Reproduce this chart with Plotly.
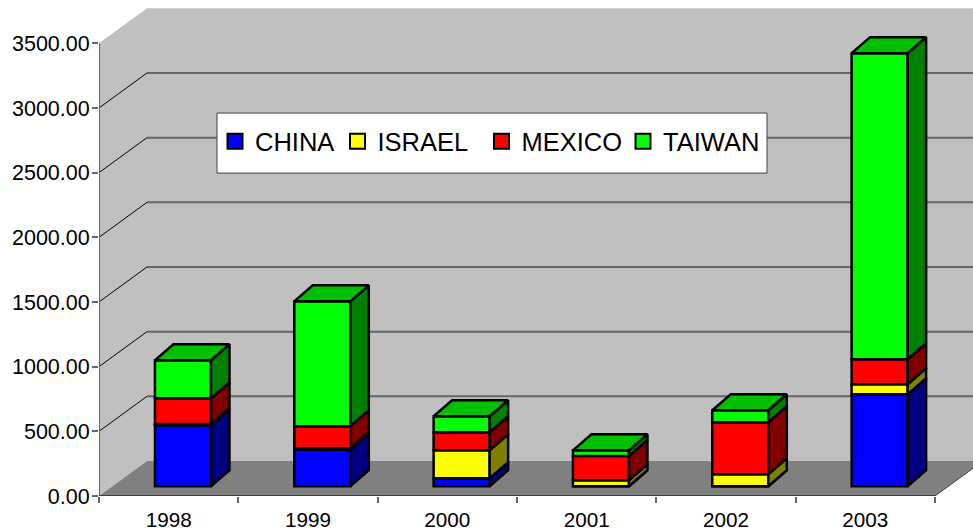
import plotly.graph_objects as go

# Shipment values per year, stacked in legend order
years = ["1998", "1999", "2000", "2001", "2002", "2003"]
china = [472, 285, 62, 0, 0, 711]
israel = [10, 10, 216, 46, 93, 78]
mexico = [198, 170, 140, 188, 402, 193]
taiwan = [294, 965, 123, 44, 93, 2367]
y_ticks = [0, 500, 1000, 1500, 2000, 2500, 3000, 3500]

series = [
    ("CHINA", china, "#0000FF", "#000080"),
    ("ISRAEL", israel, "#FFFF00", "#808000"),
    ("MEXICO", mexico, "#FF0000", "#800000"),
    ("TAIWAN", taiwan, "#00FF00", "#008000"),
]
TOP_COLOR = "#00C000"
EDGE = 2.5

# Axis scales: pixels per category and per unit of value
PX_X = 139.33
PX_Y = 0.12926
PLOT_L = 99
PLOT_W = 874
PLOT_H = 495.7
FONT = "Liberation Sans, Arial, sans-serif"


def dx(px):
    return px / PX_X


def dy(px):
    return px / PX_Y


# Oblique projection of the chart box and of the bars inside it
WALL_X, WALL_Y = dx(48), dy(35)
BAR_OFF_X, BAR_OFF_Y = dx(14.3), dy(9.7)
BAR_W = dx(56)
SIDE_X, SIDE_Y = dx(18.5), dy(16)

x_max = PLOT_W / PX_X
y_max = PLOT_H / PX_Y
n = len(years)


def poly(points, fill, line="black", width=1, layer="below"):
    path = "M" + "L".join(f"{a},{b}" for a, b in points) + "Z"
    return dict(type="path", path=path, xref="x", yref="y", fillcolor=fill,
                line=dict(color=line, width=width), layer=layer)


def seg(x0, y0, x1, y1, color, width):
    return dict(type="line", x0=x0, y0=y0, x1=x1, y1=y1, xref="x", yref="y",
                line=dict(color=color, width=width), layer="below")


top = y_ticks[-1]
shapes = [
    # Left wall and back wall
    poly([(0, 0), (WALL_X, WALL_Y), (n + WALL_X, WALL_Y), (n + WALL_X, top + WALL_Y),
          (WALL_X, top + WALL_Y), (0, top)], "#C0C0C0", "#C0C0C0", 0),
    # Floor
    poly([(0, 0), (n, 0), (n + WALL_X, WALL_Y), (WALL_X, WALL_Y)], "#808080", "#808080", 0),
]
for t in y_ticks[1:-1]:
    shapes.append(seg(0, t, WALL_X, t + WALL_Y, "#000000", 1))
    shapes.append(seg(WALL_X, t + WALL_Y, n + WALL_X, t + WALL_Y, "#666666", 2))
shapes += [
    seg(0, 0, 0, top, "#666666", 2),
    seg(0, 0, n, 0, "#404040", 2),
    seg(n, 0, n + WALL_X, WALL_Y, "#404040", 1),
]

fig = go.Figure()

# Front faces are stacked bars; side faces follow the same cumulative values
cum = [0] * n
centers = [i + 0.5 + BAR_OFF_X for i in range(n)]
side_traces = []
for name, values, front, side in series:
    fig.add_trace(go.Bar(
        x=centers, y=values, base=[c + BAR_OFF_Y for c in cum], width=BAR_W, name=name,
        marker=dict(color=front, line=dict(color="black", width=EDGE)),
        showlegend=False, hoverinfo="skip",
    ))
    for i, v in enumerate(values):
        x1 = centers[i] + BAR_W / 2
        y0 = cum[i] + BAR_OFF_Y
        y1 = y0 + v
        side_traces.append(go.Scatter(
            x=[x1, x1 + SIDE_X, x1 + SIDE_X, x1, x1],
            y=[y0, y0 + SIDE_Y, y1 + SIDE_Y, y1, y0],
            mode="lines", fill="toself", fillcolor=side,
            line=dict(color="black", width=EDGE), showlegend=False, hoverinfo="skip",
        ))
    cum = [c + v for c, v in zip(cum, values)]

# Top cap of every column
for i in range(n):
    x0 = centers[i] - BAR_W / 2
    x1 = centers[i] + BAR_W / 2
    y0 = cum[i] + BAR_OFF_Y
    side_traces.append(go.Scatter(
        x=[x0, x1, x1 + SIDE_X, x0 + SIDE_X, x0],
        y=[y0, y0, y0 + SIDE_Y, y0 + SIDE_Y, y0],
        mode="lines", fill="toself", fillcolor=TOP_COLOR,
        line=dict(color="black", width=EDGE), showlegend=False, hoverinfo="skip",
    ))
fig.add_traces(side_traces)

# Legend keys: one legend per series so each entry keeps its own spacing
key_centers = [240, 362.5, 506.5, 648]
legends = {}
for k, ((name, _, front, _), cx) in enumerate(zip(series, key_centers)):
    ref = "legend" if k == 0 else f"legend{k + 1}"
    fig.add_trace(go.Scatter(
        x=[None], y=[None], mode="markers", name=name, legend=ref,
        marker=dict(symbol="square", size=15, color=front, line=dict(color="black", width=2)),
        hoverinfo="skip",
    ))
    legends[ref] = dict(
        x=(cx - 20 - PLOT_L) / PLOT_W, y=1 - 118 / PLOT_H, xanchor="left", yanchor="top",
        bgcolor="rgba(0,0,0,0)", borderwidth=0, indentation=-5,
        font=dict(family=FONT, size=25.5, color="black"),
        itemclick=False, itemdoubleclick=False,
    )

# White panel behind the legend row
LEG_L, LEG_R, LEG_T, LEG_B = 217, 767, 113, 173
shapes.append(dict(type="rect", xref="paper", yref="paper",
                   x0=(LEG_L - PLOT_L) / PLOT_W, x1=(LEG_R - PLOT_L) / PLOT_W,
                   y0=1 - LEG_B / PLOT_H, y1=1 - LEG_T / PLOT_H,
                   fillcolor="white", line=dict(color="#404040", width=1), layer="above"))

fig.update_layout(
    width=973, height=531,
    margin=dict(l=PLOT_L, r=0, t=0, b=531 - PLOT_H, autoexpand=False),
    paper_bgcolor="white", plot_bgcolor="white",
    barmode="overlay", shapes=shapes,
    showlegend=True,
    xaxis=dict(range=[0, x_max], tickmode="array",
               tickvals=[i + 0.5 for i in range(n)], ticktext=years,
               ticks="", showgrid=False, zeroline=False, showline=False,
               ticklabelstandoff=9,
               tickfont=dict(family=FONT, size=20.7, color="black"),
               minor=dict(tickmode="array", tickvals=list(range(n + 1)), ticks="outside",
                          ticklen=6, tickwidth=2, tickcolor="#666666", showgrid=False)),
    yaxis=dict(range=[0, y_max], tickmode="array", tickvals=y_ticks,
               ticktext=[f"{t:.2f}" for t in y_ticks],
               ticks="outside", ticklen=6, tickwidth=2, tickcolor="#666666",
               showgrid=False, zeroline=False, showline=False,
               ticklabelstandoff=-2,
               tickfont=dict(family=FONT, size=21.5, color="black")),
    **legends,
)

fig.write_html("out.html", config={"displayModeBar": False})
